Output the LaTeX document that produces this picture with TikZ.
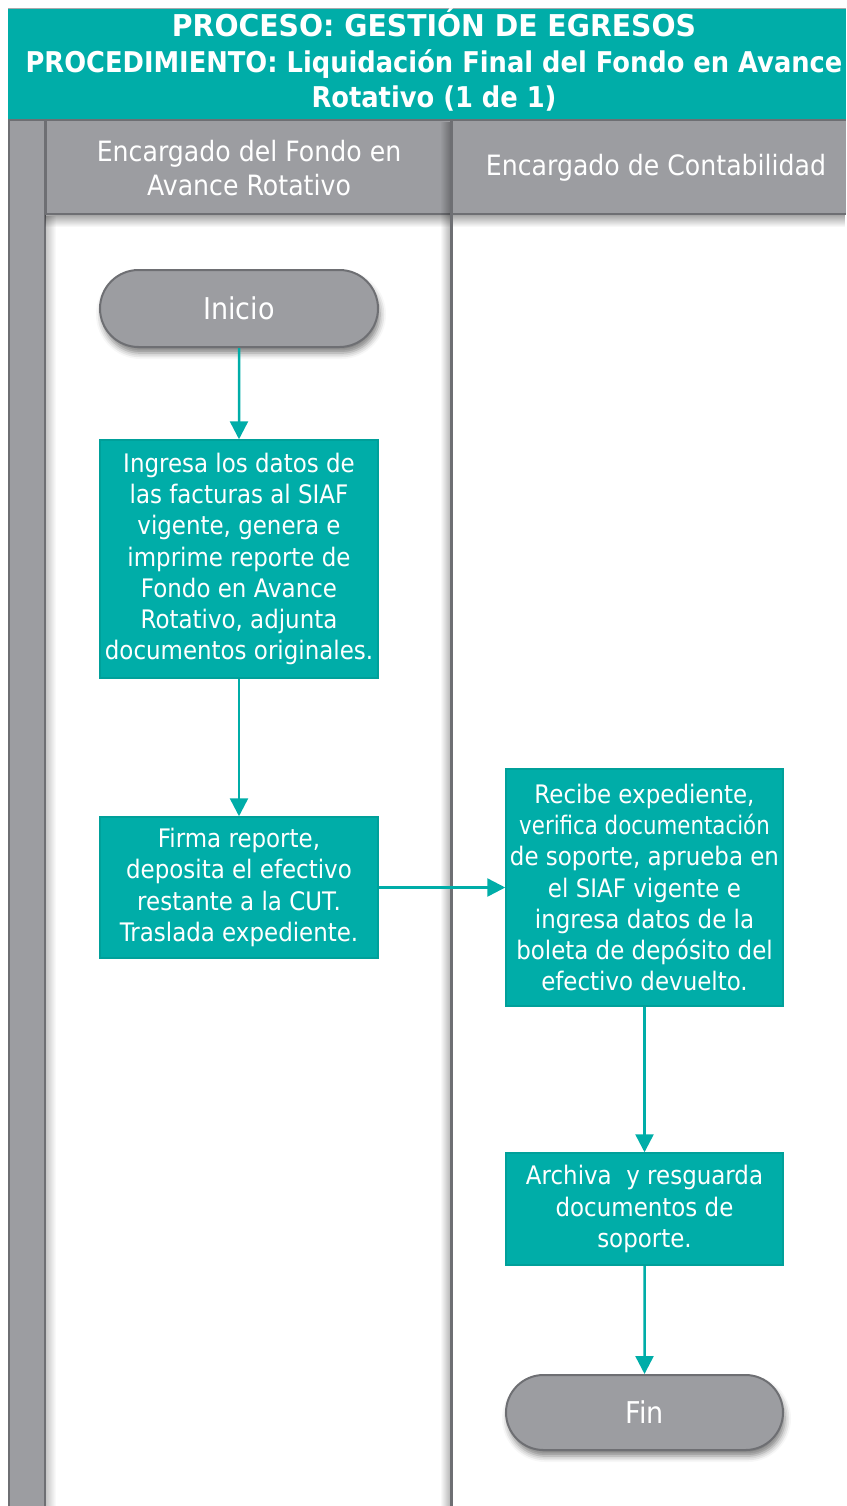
\documentclass[tikz,border=0pt]{standalone}
\usepackage{fontspec}
\setmainfont{DejaVu Sans}[FakeStretch=0.9]
\usetikzlibrary{arrows.meta,shapes.misc,shadows.blur,fadings}

\definecolor{teal}{RGB}{0,173,168}
\definecolor{tealedge}{RGB}{0,160,154}
\definecolor{lanegray}{RGB}{156,157,161}
\definecolor{edgegray}{RGB}{110,111,115}

% soft shadow fadings: opaque on one side, clear on the other
\tikzfading[name=fade down, top color=transparent!0, bottom color=transparent!100]
\tikzfading[name=fade right, left color=transparent!0, right color=transparent!100]
\tikzfading[name=fade left, left color=transparent!100, right color=transparent!0]

\tikzset{
  procbox/.style={rectangle, fill=teal, draw=tealedge, line width=1.5pt,
    text=white, align=center, inner sep=0pt,
    font=\fontsize{25.5}{31.2}\selectfont},
  termbox/.style={rounded rectangle, fill=lanegray, draw=edgegray, line width=2pt,
    text=white, inner sep=0pt, font=\fontsize{30}{36}\selectfont,
    blur shadow={shadow xshift=2pt, shadow yshift=-6pt, shadow blur radius=6pt, shadow opacity=50}},
  flow/.style={draw=teal, line width=2.5pt, -{Triangle[length=18pt,width=18pt]}},
  titletext/.style={text=white, anchor=base, font=\bfseries\fontsize{28.6}{35}\selectfont},
  lanetext/.style={text=white, align=center, font=\fontsize{28}{34}\selectfont},
}

\begin{document}
\begin{tikzpicture}[x=1pt, y=-1pt]
\useasboundingbox (0,0) rectangle (846,1506);

% title band
\fill[teal] (8,8) rectangle (846,119);
\draw[edgegray!60, line width=1pt] (8,8.5) -- (846,8.5);
\node[titletext] (title1) at (434,37) {\scalebox{1.1}[1.05]{PROCESO: GESTIÓN DE EGRESOS}};
\node[titletext] (title2) at (434,73) {PROCEDIMIENTO: Liquidación Final del Fondo en Avance};
\node[titletext] (title3) at (434,108) {Rotativo (1 de 1)};

% left strip
\fill[lanegray] (8,119) rectangle (46,1506);
\draw[edgegray, line width=2pt] (9,119) -- (9,1506);
\draw[edgegray, line width=2pt] (45,119) -- (45,1506);

% header row
\fill[lanegray] (46,119) rectangle (846,215);
\draw[edgegray, line width=2pt] (8,120) -- (846,120);
\draw[edgegray, line width=2pt] (46,214) -- (846,214);
\draw[edgegray, line width=2pt] (46,119) -- (46,215);

% shadows cast by the header row, the strip and the lane separator
\fill[black, opacity=0.35, path fading=fade down] (46,215) rectangle (846,227);
\fill[black, opacity=0.22, path fading=fade right] (46,215) rectangle (56,1506);
\fill[black, opacity=0.28, path fading=fade left] (440,119) rectangle (450,1506);
\draw[edgegray, line width=3pt] (451.5,119) -- (451.5,1506);

\node[lanetext] (lane1) at (249,168) {Encargado del Fondo en\\Avance Rotativo};
\node[lanetext] (lane2) at (656,168) {Encargado de Contabilidad};

% flow
\node[termbox, minimum width=278pt, minimum height=77pt] (inicio) at (239,308.5) {Inicio};
\node[procbox, minimum width=278pt, minimum height=238pt] (b1) at (239,559)
  {Ingresa los datos de\\las facturas al SIAF\\vigente, genera e\\imprime reporte de\\Fondo en Avance\\Rotativo, adjunta\\documentos originales.};
\node[procbox, minimum width=278pt, minimum height=141pt] (b2) at (239,887.5)
  {Firma reporte,\\deposita el efectivo\\restante a la CUT.\\Traslada expediente.};
\node[procbox, minimum width=277pt, minimum height=237pt] (b3) at (644.5,887.5)
  {Recibe expediente,\\\scalebox{0.93}[1]{verifica documentación}\\de soporte, aprueba en\\el SIAF vigente e\\ingresa datos de la\\boleta de depósito del\\efectivo devuelto.};
\node[procbox, minimum width=277pt, minimum height=112pt] (b4) at (644.5,1209)
  {Archiva~ y resguarda\\documentos de\\soporte.};
\node[termbox, minimum width=277pt, minimum height=75pt] (fin) at (644.5,1412.5) {Fin};

\draw[flow] (inicio) -- (b1);
\draw[flow] (b1) -- (b2);
\draw[flow] (b2) -- (b3);
\draw[flow] (b3) -- (b4);
\draw[flow] (b4) -- (fin);
\end{tikzpicture}
\end{document}
